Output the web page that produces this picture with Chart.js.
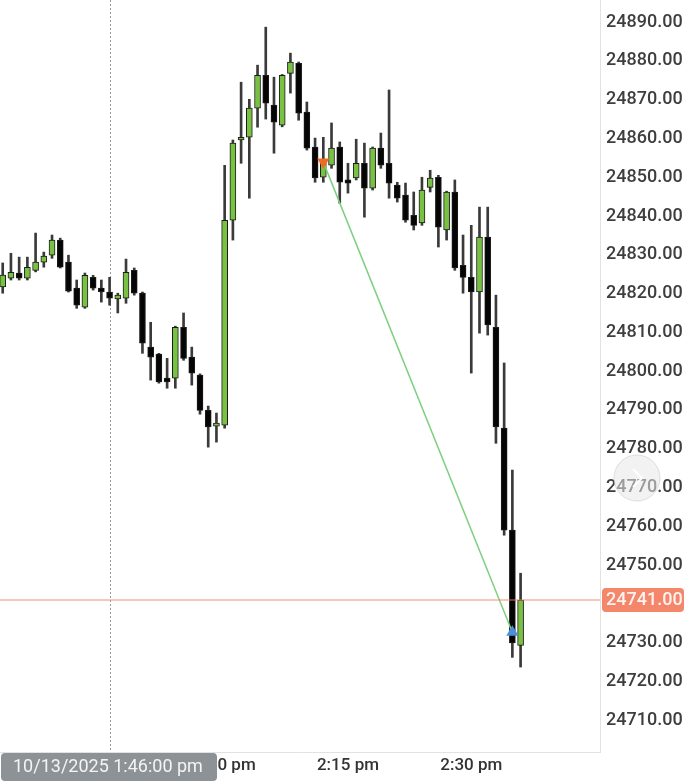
<!DOCTYPE html>
<html>
<head>
<meta charset="utf-8">
<script src="https://cdn.jsdelivr.net/npm/chart.js@4.4.1/dist/chart.umd.min.js"></script>
<style>
  html, body { margin: 0; padding: 0; background: #fff; }
  #wrap { width: 686px; height: 782px; position: relative; }
</style>
</head>
<body>
<div id="wrap"><canvas id="candles"></canvas></div>
<script>
// 1-minute candles, 1:33 pm .. 2:36 pm
const opens = [24821.7, 24824.0, 24825.3, 24824.0, 24826.0, 24828.1, 24829.9, 24833.8, 24828.1, 24821.4,
  24816.5, 24824.2, 24821.4, 24820.4, 24818.6, 24818.8, 24826.0, 24820.1, 24806.2, 24804.4,
  24798.2, 24798.2, 24811.3, 24803.6, 24799.0, 24789.9, 24785.8, 24786.1, 24838.9, 24859.6,
  24860.3, 24867.8, 24876.3, 24868.6, 24863.4, 24876.8, 24879.4, 24866.8, 24857.8, 24850.0,
  24853.1, 24857.8, 24849.3, 24849.8, 24853.6, 24847.2, 24857.5, 24853.6, 24848.0, 24845.4,
  24840.2, 24838.2, 24847.4, 24850.0, 24836.4, 24846.2, 24827.3, 24824.2, 24820.4, 24834.6,
  24811.3, 24785.3, 24759.0, 24729.3];
const highs = [24827.9, 24830.4, 24829.4, 24829.4, 24835.6, 24830.7, 24835.1, 24834.3, 24829.9, 24823.5,
  24825.3, 24824.7, 24823.5, 24824.2, 24820.1, 24828.9, 24826.6, 24820.4, 24812.6, 24804.6,
  24803.3, 24811.6, 24815.0, 24806.2, 24799.3, 24791.0, 24789.2, 24853.1, 24859.6, 24874.5,
  24870.1, 24878.9, 24888.7, 24875.8, 24876.5, 24882.0, 24879.7, 24869.4, 24860.1, 24860.3,
  24864.0, 24859.1, 24853.6, 24859.8, 24858.8, 24857.8, 24861.4, 24872.5, 24848.7, 24848.5,
  24846.2, 24850.0, 24851.8, 24850.5, 24846.4, 24849.3, 24835.1, 24837.6, 24842.3, 24842.3,
  24819.6, 24802.1, 24774.5, 24747.9];
const lows = [24820.1, 24823.5, 24823.5, 24823.5, 24825.6, 24826.8, 24829.1, 24826.6, 24820.4, 24816.2,
  24816.2, 24820.9, 24817.8, 24817.0, 24815.0, 24817.5, 24819.6, 24804.6, 24797.7, 24796.9,
  24795.6, 24795.6, 24802.8, 24796.4, 24788.9, 24780.4, 24781.7, 24785.3, 24833.8, 24853.6,
  24844.6, 24862.9, 24865.0, 24856.2, 24863.0, 24871.7, 24864.7, 24857.0, 24848.7, 24848.7,
  24852.3, 24843.3, 24845.9, 24849.3, 24839.7, 24846.7, 24852.3, 24844.6, 24843.6, 24838.4,
  24836.4, 24837.6, 24846.2, 24832.0, 24833.8, 24826.0, 24820.1, 24799.5, 24809.8, 24809.3,
  24781.4, 24757.7, 24726.2, 24723.7];
const closes = [24824.8, 24825.5, 24824.0, 24826.8, 24828.1, 24829.7, 24833.8, 24826.8, 24820.6, 24817.0,
  24824.7, 24821.4, 24820.4, 24818.8, 24819.6, 24825.5, 24820.1, 24807.2, 24803.6, 24797.2,
  24797.2, 24811.3, 24803.3, 24799.5, 24789.9, 24785.6, 24786.6, 24838.9, 24858.8, 24860.3,
  24867.8, 24876.3, 24869.1, 24864.2, 24876.3, 24879.7, 24866.5, 24857.5, 24849.8, 24853.9,
  24857.5, 24848.7, 24848.5, 24853.6, 24847.2, 24857.5, 24853.1, 24848.5, 24844.6, 24838.9,
  24837.6, 24846.7, 24849.8, 24837.1, 24846.2, 24826.6, 24824.2, 24820.4, 24834.6, 24811.9,
  24785.6, 24759.0, 24729.9, 24741.0];

const xTickPos = [27, 42, 57];
const xTickLabels = ['2:00 pm', '2:15 pm', '2:30 pm'];
const yTickValues = [24710, 24720, 24730, 24740, 24750, 24760, 24770, 24780, 24790, 24800,
  24810, 24820, 24830, 24840, 24850, 24860, 24870, 24880, 24890];

// trade: sell marker -> buy marker
const tradeX = [39, 62];
const tradeY = [24853.9, 24732.7];
const lastPrice = 24741.00;
const crosshairX = 13;
const crosshairLabel = '10/13/2025 1:46:00 pm';

const GREEN = '#79c143';
const BLACK = '#050505';

const wickData = highs.map((h, i) => ({ x: i, y: [lows[i], h] }));
const bodyData = opens.map((o, i) => {
  let lo = Math.min(o, closes[i]), hi = Math.max(o, closes[i]);
  if (hi - lo < 0.5) { const m = (hi + lo) / 2; lo = m - 0.25; hi = m + 0.25; }
  return { x: i, y: [lo, hi] };
});
const bodyColors = opens.map((o, i) => closes[i] >= o ? GREEN : BLACK);

const fontFamily = 'Roboto, "Noto Sans", sans-serif';

const overlay = {
  id: 'overlay',
  beforeDatasetsDraw(chart) {
    const { ctx, chartArea, scales } = chart;
    // crosshair
    const cx = Math.round(scales.x.getPixelForValue(crosshairX)) + 0.5;
    ctx.save();
    ctx.strokeStyle = '#9a9a9a';
    ctx.lineWidth = 1;
    ctx.setLineDash([2, 2]);
    ctx.beginPath();
    ctx.moveTo(cx, chartArea.top);
    ctx.lineTo(cx, chartArea.bottom);
    ctx.stroke();
    ctx.restore();
  },
  afterDatasetsDraw(chart) {
    const { ctx, chartArea, scales } = chart;
    const py = scales.y.getPixelForValue(lastPrice);
    ctx.save();
    ctx.strokeStyle = 'rgba(240,130,100,0.6)';
    ctx.lineWidth = 1.5;
    ctx.beginPath();
    ctx.moveTo(chartArea.left, py);
    ctx.lineTo(chartArea.right, py);
    ctx.stroke();
    ctx.restore();
  },
  afterDraw(chart) {
    const { ctx, chartArea, scales } = chart;
    const py = scales.y.getPixelForValue(lastPrice);
    ctx.save();
    // price tag
    ctx.fillStyle = '#f3866b';
    ctx.beginPath();
    ctx.roundRect(chartArea.right + 2, py - 12, 82, 24, 4);
    ctx.fill();
    ctx.fillStyle = '#fff3ef';
    ctx.font = '500 18px ' + fontFamily;
    ctx.textBaseline = 'middle';
    ctx.textAlign = 'left';
    ctx.fillText(lastPrice.toFixed(2), chartArea.right + 6, py + 1);

    // crosshair time label
    ctx.fillStyle = '#8d9297';
    ctx.beginPath();
    ctx.roundRect(1, chartArea.bottom + 1, 216, 28, 4);
    ctx.fill();
    ctx.fillStyle = '#f4f4f4';
    ctx.font = '18px ' + fontFamily;
    ctx.textAlign = 'left';
    ctx.fillText(crosshairLabel, 13, chartArea.bottom + 15);

    // faint nav button
    ctx.fillStyle = 'rgba(232,232,232,0.55)';
    ctx.strokeStyle = 'rgba(210,210,210,0.7)';
    ctx.lineWidth = 1;
    ctx.beginPath();
    ctx.arc(637, 478, 23, 0, Math.PI * 2);
    ctx.fill();
    ctx.stroke();
    ctx.strokeStyle = 'rgba(255,255,255,0.95)';
    ctx.lineWidth = 2;
    ctx.beginPath();
    ctx.moveTo(633, 469);
    ctx.lineTo(642, 478);
    ctx.lineTo(633, 487);
    ctx.stroke();
    ctx.restore();
  }
};

new Chart(document.getElementById('candles'), {
  type: 'bar',
  data: {
    datasets: [
      {
        type: 'line',
        data: tradeX.map((x, i) => ({ x, y: tradeY[i] })),
        borderColor: '#7fcf80',
        borderWidth: 1.5,
        pointStyle: 'triangle',
        pointRadius: 7,
        pointRotation: [180, 0],
        pointBackgroundColor: ['#f06a22', '#4b8fd8'],
        pointBorderWidth: 0,
        order: 0
      },
      {
        data: bodyData,
        backgroundColor: bodyColors,
        borderColor: '#1c1c1c',
        borderWidth: 1,
        borderSkipped: false,
        barThickness: 6,
        grouped: false,
        order: 1
      },
      {
        data: wickData,
        backgroundColor: '#3a3a3a',
        barThickness: 2,
        grouped: false,
        order: 2
      }
    ]
  },
  options: {
    responsive: true,
    maintainAspectRatio: false,
    animation: false,
    layout: { padding: 0, autoPadding: false },
    plugins: {
      legend: { display: false },
      tooltip: { enabled: false }
    },
    scales: {
      x: {
        type: 'linear',
        min: -0.33,
        max: 72.66,
        offset: false,
        grid: { display: false, drawTicks: false },
        border: { display: true, color: '#e2e2e2' },
        afterBuildTicks: (axis) => { axis.ticks = xTickPos.map(v => ({ value: v })); },
        afterFit: (axis) => {
          axis.height = 30;
          axis.paddingLeft = 0;
          axis.paddingRight = 0;
        },
        ticks: {
          autoSkip: false,
          maxRotation: 0,
          padding: 4,
          color: '#333',
          font: { family: fontFamily, size: 17, weight: '500' },
          callback: (v) => xTickLabels[xTickPos.indexOf(v)]
        }
      },
      y: {
        position: 'right',
        min: 24701.8,
        max: 24895.7,
        grid: { display: false, drawTicks: false },
        border: { display: true, color: '#e2e2e2' },
        afterBuildTicks: (axis) => { axis.ticks = yTickValues.map(v => ({ value: v })); },
        afterFit: (axis) => {
          axis.width = 86;
          axis.paddingTop = 0;
          axis.paddingBottom = 0;
        },
        ticks: {
          padding: 6,
          color: '#3e3e3e',
          font: { family: fontFamily, size: 18, weight: '500' },
          callback: (v) => Number(v).toFixed(2)
        }
      }
    }
  },
  plugins: [overlay]
});
</script>
</body>
</html>
